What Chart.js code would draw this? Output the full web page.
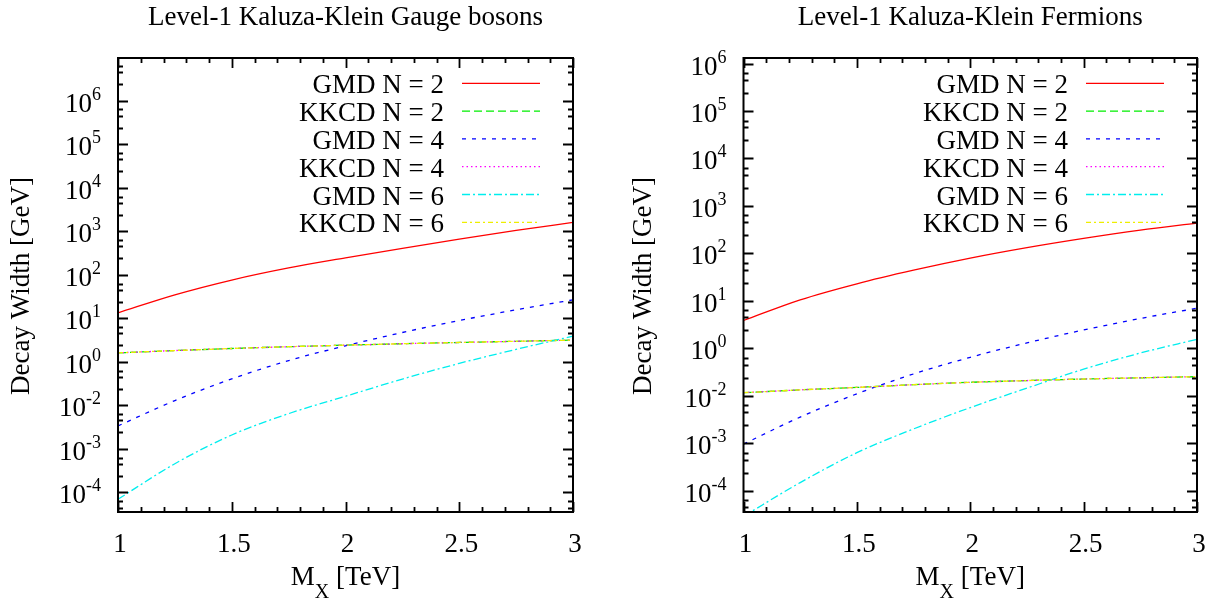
<!DOCTYPE html>
<html>
<head>
<meta charset="utf-8">
<title>Level-1 Kaluza-Klein decay widths</title>
<script src="https://cdn.jsdelivr.net/npm/chart.js@4.4.0/dist/chart.umd.min.js"></script>
<style>
  html, body { margin: 0; padding: 0; background: #fff; }
  #wrap { position: relative; width: 1214px; height: 599px; }
  .panel { position: absolute; top: 0; width: 607px; height: 599px; }
</style>
</head>
<body>
<div id="wrap">
  <div class="panel" style="left:0"><canvas id="gauge"></canvas></div>
  <div class="panel" style="left:607px"><canvas id="fermion"></canvas></div>
</div>
<script>
// M_X in TeV
const massTeV = [1, 1.25, 1.5, 1.75, 2, 2.25, 2.5, 2.75, 3];

// decay widths (GeV, in axis position units)
const gaugeGMD2  = [13.4, 34.7, 75.9, 144, 245, 407, 661, 1047, 1600];
const gaugeKKCD2 = [1.61, 1.82, 2.03, 2.23, 2.42, 2.61, 2.79, 2.97, 3.16];
const gaugeGMD4  = [0.0338, 0.129, 0.407, 1.07, 2.34, 4.73, 8.91, 15.7, 26.6];
const gaugeKKCD4 = [1.61, 1.82, 2.03, 2.23, 2.42, 2.61, 2.79, 2.97, 3.16];
const gaugeGMD6  = [0.000698, 0.00457, 0.0209, 0.0646, 0.162, 0.403, 0.923, 1.94, 3.90];
const gaugeKKCD6 = [1.61, 1.82, 2.03, 2.23, 2.42, 2.61, 2.79, 2.97, 3.16];

const fermGMD2  = [3.85, 10.5, 22.9, 44.2, 79.4, 132, 207, 309, 434];
const fermKKCD2 = [0.116, 0.133, 0.150, 0.171, 0.192, 0.209, 0.225, 0.239, 0.252];
const fermGMD4  = [0.00957, 0.0355, 0.110, 0.288, 0.646, 1.30, 2.43, 4.25, 6.98];
const fermKKCD4 = [0.116, 0.133, 0.150, 0.171, 0.192, 0.209, 0.225, 0.239, 0.252];
const fermGMD6  = [0.000288, 0.00148, 0.00631, 0.0200, 0.0562, 0.145, 0.363, 0.794, 1.55];
const fermKKCD6 = [0.116, 0.133, 0.150, 0.171, 0.192, 0.209, 0.225, 0.239, 0.252];

const seriesNames = ['GMD N = 2', 'KKCD N = 2', 'GMD N = 4', 'KKCD N = 4', 'GMD N = 6', 'KKCD N = 6'];

// axes
const xMajor = [1, 1.5, 2, 2.5, 3];
const xTickLabels = ['1', '1.5', '2', '2.5', '3'];
const yDecades = [1e6, 1e5, 1e4, 1e3, 1e2, 1e1, 1, 1e-1, 1e-2, 1e-3];
const yExponents = ['6', '5', '4', '3', '2', '1', '0', '-2', '-3', '-4'];
const yMinorSteps = [2.4, 4.5, 6.3];

const lineColors = ['#ff0000', '#00ee00', '#0000ff', '#ff00ff', '#00eeee', '#eeee00'];
const lineDashes = [[], [8, 4], [4, 6], [1.5, 3], [8, 3, 2, 3], [5, 3, 2, 3]];

const SERIF = '"Liberation Serif", "Times New Roman", serif';

const panelDecor = {
  id: 'panelDecor',
  afterDatasetsDraw(chart) {
    const o = chart.options.plugins.panelDecor;
    const { ctx, chartArea: a } = chart;
    const xs = chart.scales.x, ys = chart.scales.y;
    ctx.save();
    ctx.strokeStyle = '#000';
    ctx.fillStyle = '#000';
    ctx.lineWidth = 1.8;
    ctx.setLineDash([]);

    // tics on all four sides, pointing inwards
    ctx.beginPath();
    for (let v = 1; v <= 3.0001; v += 0.1) {
      const major = xMajor.some(m => Math.abs(m - v) < 1e-6);
      const len = major ? 10 : 5;
      const px = Math.round(xs.getPixelForValue(v)) + 0.5;
      ctx.moveTo(px, a.bottom); ctx.lineTo(px, a.bottom - len);
      ctx.moveTo(px, a.top); ctx.lineTo(px, a.top + len);
    }
    for (let e = -5; e <= 7; e++) {
      [1].concat(yMinorSteps).forEach((m, k) => {
        const v = m * Math.pow(10, e);
        if (v < ys.min || v > ys.max) return;
        const len = k === 0 ? 10 : 5;
        const py = Math.round(ys.getPixelForValue(v)) + 0.5;
        ctx.moveTo(a.left, py); ctx.lineTo(a.left + len, py);
        ctx.moveTo(a.right, py); ctx.lineTo(a.right - len, py);
      });
    }
    ctx.stroke();

    // frame
    ctx.lineWidth = 2;
    ctx.strokeRect(a.left, a.top, a.right - a.left, a.bottom - a.top);

    // x tick labels
    ctx.font = '27px ' + SERIF;
    ctx.textAlign = 'center';
    ctx.textBaseline = 'alphabetic';
    xMajor.forEach((v, i) => {
      ctx.fillText(xTickLabels[i], xs.getPixelForValue(v) + 2, a.bottom + 40);
    });

    // y tick labels 10^n
    ctx.textAlign = 'right';
    const right = a.left - 17;
    yDecades.forEach((v, i) => {
      const py = ys.getPixelForValue(v) + 11;
      ctx.font = '18px ' + SERIF;
      const ew = ctx.measureText(yExponents[i]).width;
      ctx.fillText(yExponents[i], right, py - 12);
      ctx.font = '27px ' + SERIF;
      ctx.fillText('10', right - ew, py);
    });

    // panel title
    const cx = (a.left + a.right) / 2;
    ctx.textAlign = 'center';
    ctx.font = '27px ' + SERIF;
    ctx.fillText(o.title, cx, 25);

    // x axis title: M_X [TeV]
    ctx.textAlign = 'left';
    ctx.font = '27px ' + SERIF;
    const wM = ctx.measureText('M').width;
    const wT = ctx.measureText(' [TeV]').width;
    ctx.font = '20px ' + SERIF;
    const wX = ctx.measureText('X').width;
    let sx = cx - (wM + wX + wT) / 2;
    ctx.font = '27px ' + SERIF;
    ctx.fillText('M', sx, 585);
    ctx.font = '20px ' + SERIF;
    ctx.fillText('X', sx + wM, 598);
    ctx.font = '27px ' + SERIF;
    ctx.fillText(' [TeV]', sx + wM + wX, 585);

    // y axis title
    ctx.save();
    ctx.translate(o.yTitleX, 286);
    ctx.rotate(-Math.PI / 2);
    ctx.textAlign = 'center';
    ctx.textBaseline = 'middle';
    ctx.fillText('Decay Width [GeV]', 0, 0);
    ctx.restore();

    // key
    chart.data.datasets.forEach((ds, i) => {
      const ly = a.top + 25.3 + i * 27.8;
      ctx.fillStyle = '#000';
      ctx.textAlign = 'right';
      ctx.font = '27px ' + SERIF;
      ctx.fillText(ds.label, a.right - 129, ly + 10);
      ctx.strokeStyle = ds.borderColor;
      ctx.lineWidth = 1.3;
      ctx.setLineDash(ds.borderDash);
      ctx.beginPath();
      ctx.moveTo(a.right - 111, ly);
      ctx.lineTo(a.right - 33, ly);
      ctx.stroke();
    });
    ctx.restore();
  }
};

function makePanel(id, title, series, yMin, yMax, pad, yTitleX) {
  const datasets = series.map((vals, i) => ({
    label: seriesNames[i],
    data: massTeV.map((m, k) => ({ x: m, y: vals[k] })),
    borderColor: lineColors[i],
    borderDash: lineDashes[i],
    borderWidth: 1.3,
    pointRadius: 0,
    cubicInterpolationMode: 'monotone',
    order: 6 - i
  }));
  return new Chart(document.getElementById(id), {
    type: 'line',
    data: { datasets },
    plugins: [panelDecor],
    options: {
      responsive: true,
      maintainAspectRatio: false,
      animation: false,
      layout: { padding: pad },
      plugins: {
        legend: { display: false },
        tooltip: { enabled: false },
        panelDecor: { title, yTitleX }
      },
      scales: {
        x: { type: 'linear', min: 1, max: 3, display: false },
        y: { type: 'logarithmic', min: yMin, max: yMax, display: false }
      }
    }
  });
}

makePanel('gauge', 'Level-1 Kaluza-Klein Gauge bosons',
  [gaugeGMD2, gaugeKKCD2, gaugeGMD4, gaugeKKCD4, gaugeGMD6, gaugeKKCD6],
  3.55e-4, 9.6e6, { left: 118, right: 34, top: 58, bottom: 87 }, 22);

makePanel('fermion', 'Level-1 Kaluza-Klein Fermions',
  [fermGMD2, fermKKCD2, fermGMD4, fermKKCD4, fermGMD6, fermKKCD6],
  3.55e-4, 1.31e6, { left: 136.5, right: 17, top: 58, bottom: 87 }, 37);
</script>
</body>
</html>
